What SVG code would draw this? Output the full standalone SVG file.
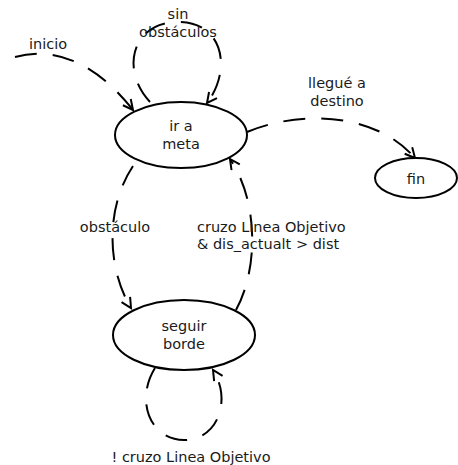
<svg xmlns="http://www.w3.org/2000/svg" width="458" height="465" viewBox="0 0 458 465">
  <style>
    .state { fill: #ffffff; stroke: #000000; stroke-width: 2; }
    .edge { fill: none; stroke: #000000; stroke-width: 2; stroke-dasharray: 22 16; marker-end: url(#arrow); }
    text { font-family: "DejaVu Sans", sans-serif; font-size: 14.5px; fill: #1a1a1a; text-anchor: middle; }
    .left { text-anchor: start; }
  </style>
  <defs>
    <marker id="arrow" markerUnits="userSpaceOnUse" markerWidth="16" markerHeight="16" refX="11" refY="6" orient="auto">
      <path d="M1,1 L11,6 L1,11" fill="none" stroke="#000000" stroke-width="2"/>
    </marker>
  </defs>

  <rect width="458" height="465" fill="#ffffff"/>

  <!-- transitions -->
  <g id="connectors">
    <path class="edge" d="M15,57 C60,45 100,68 133,110"/>
    <path class="edge" d="M150,102 C120,70 132,22 178,22 C224,22 232,70 207,103"/>
    <path class="edge" d="M247,132 C300,110 375,112 415,158"/>
    <path class="edge" d="M133,166 C104,210 108,270 131,308"/>
    <path class="edge" d="M236,310 C259,268 258,200 230,159"/>
    <path class="edge" d="M155,368 C135,400 150,440 184,440 C218,440 232,400 213,370"/>
  </g>

  <!-- transition labels -->
  <g id="labels">
    <text x="48" y="49">inicio</text>
    <text x="178" y="19">sin</text>
    <text x="178" y="37">obstáculos</text>
    <text x="337" y="88">llegué a</text>
    <text x="337" y="106">destino</text>
    <text x="115" y="232">obstáculo</text>
    <text class="left" x="197" y="232">cruzo Linea Objetivo</text>
    <text class="left" x="197" y="249">&amp; dis_actualt &gt; dist</text>
    <text x="191" y="462">! cruzo Linea Objetivo</text>
  </g>

  <!-- states -->
  <g id="ir-a-meta">
    <ellipse class="state" cx="181" cy="135" rx="66" ry="33"/>
    <text x="181" y="131">ir a</text>
    <text x="181" y="149">meta</text>
  </g>
  <g id="fin">
    <ellipse class="state" cx="416" cy="178" rx="41" ry="20"/>
    <text x="416" y="184">fin</text>
  </g>
  <g id="seguir-borde">
    <ellipse class="state" cx="184" cy="335" rx="71" ry="35"/>
    <text x="184" y="331">seguir</text>
    <text x="184" y="349">borde</text>
  </g>
</svg>
